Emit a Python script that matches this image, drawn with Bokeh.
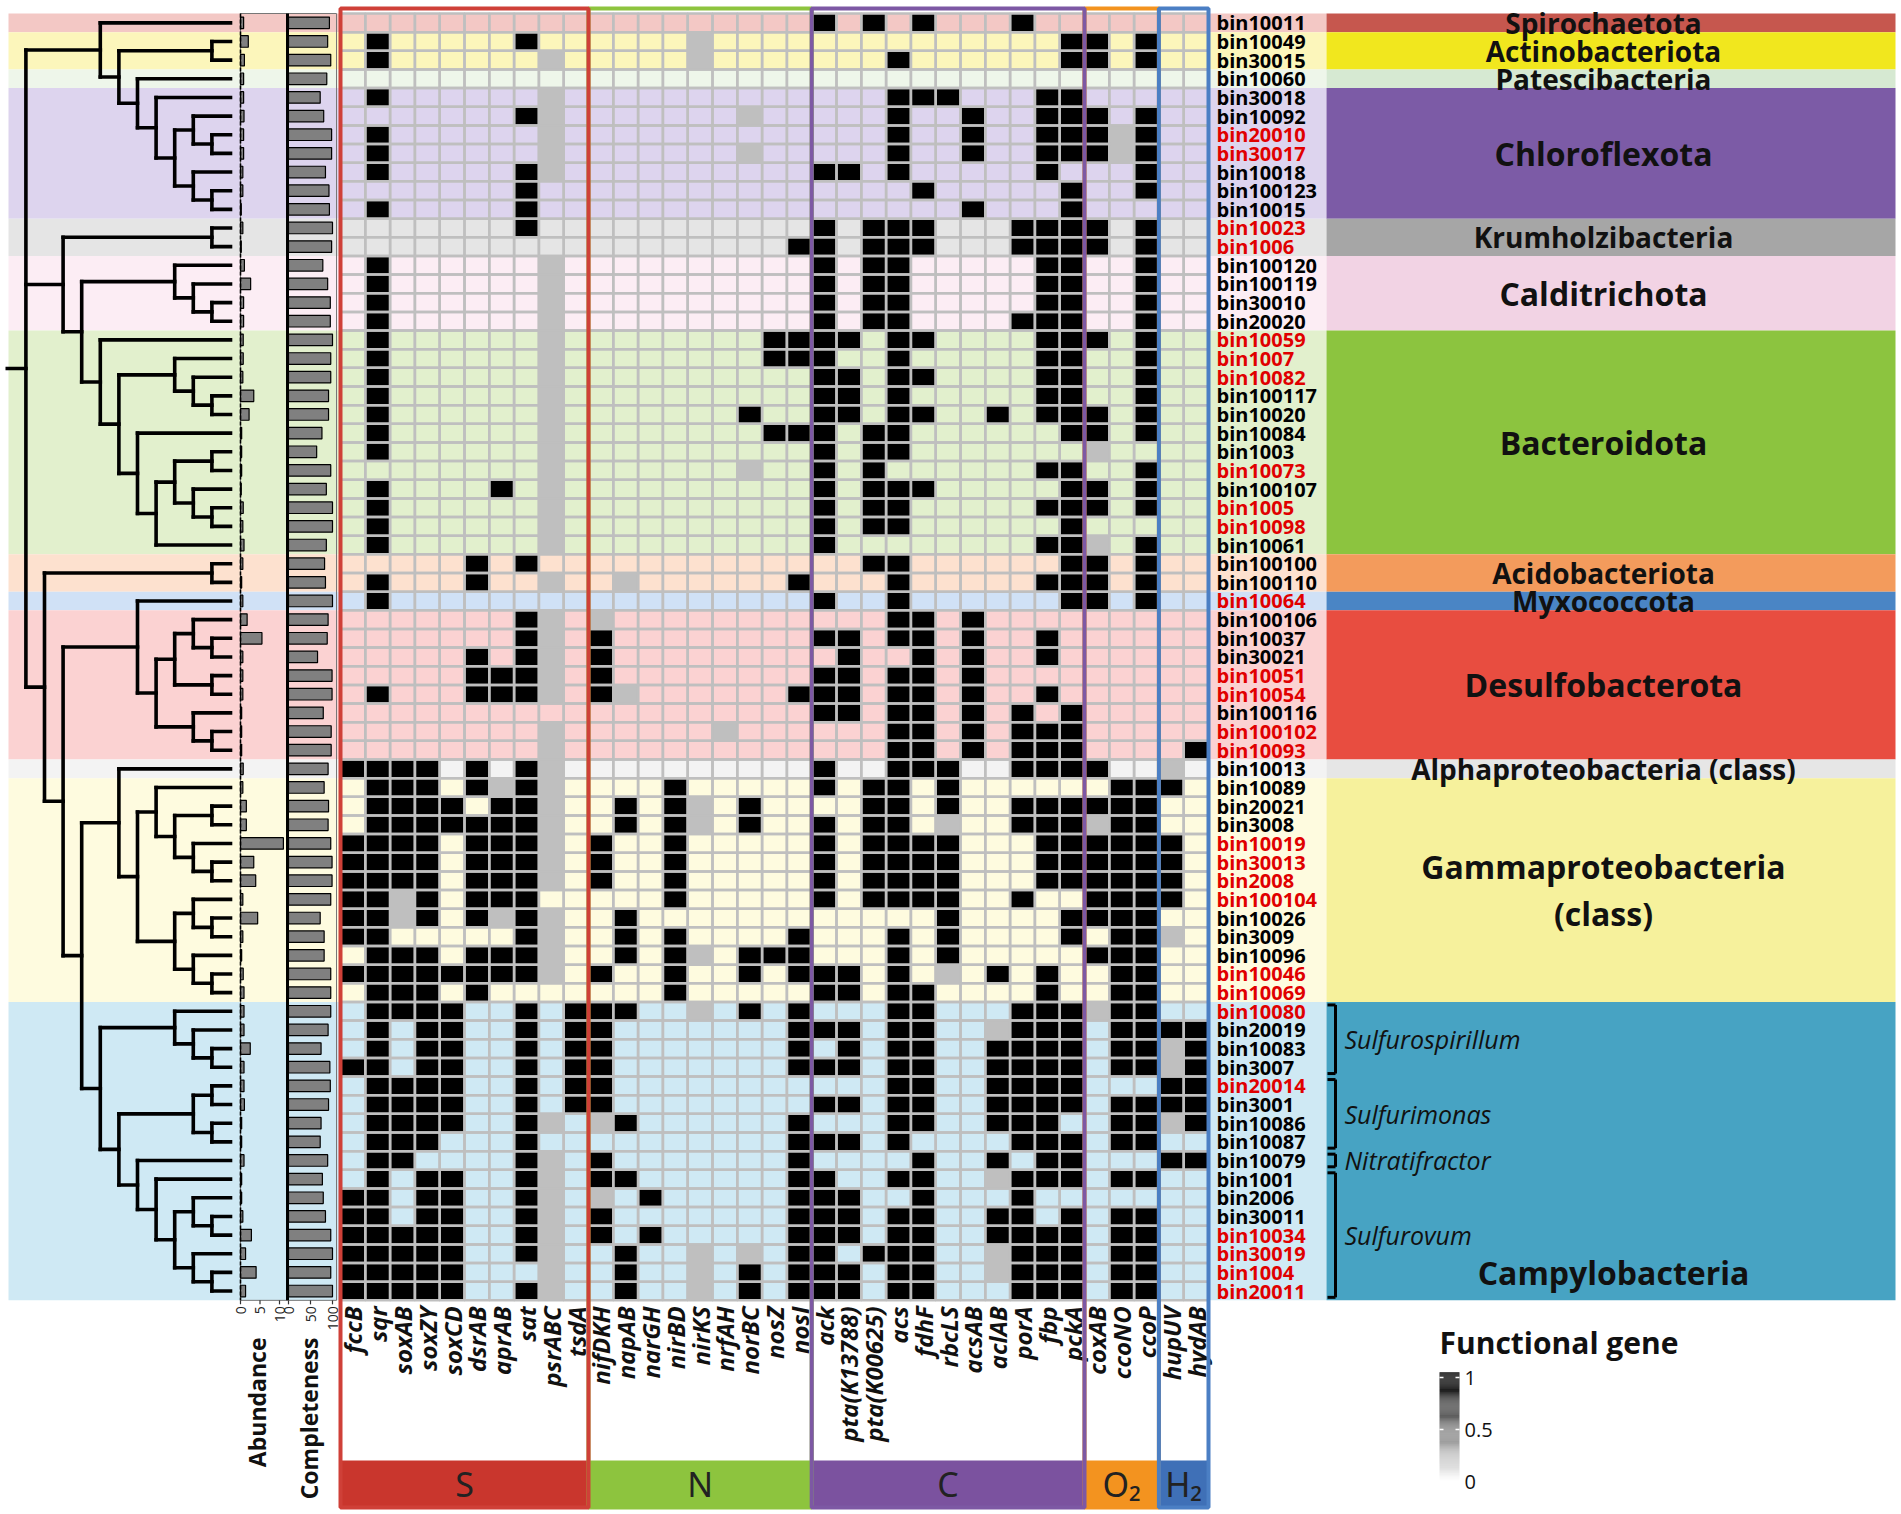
import math
import numpy as np
from bokeh.plotting import figure
from bokeh.models import Range1d, ColumnDataSource, LinearColorMapper
from bokeh.palettes import Greys256
from bokeh.core.properties import value
from bokeh.embed import file_html
from bokeh.resources import INLINE

# ---------------- data ----------------
bins = ["bin10011", "bin10049", "bin30015", "bin10060", "bin30018", "bin10092", "bin20010", "bin30017",
        "bin10018", "bin100123", "bin10015", "bin10023", "bin1006", "bin100120", "bin100119", "bin30010",
        "bin20020", "bin10059", "bin1007", "bin10082", "bin100117", "bin10020", "bin10084", "bin1003",
        "bin10073", "bin100107", "bin1005", "bin10098", "bin10061", "bin100100", "bin100110", "bin10064",
        "bin100106", "bin10037", "bin30021", "bin10051", "bin10054", "bin100116", "bin100102", "bin10093",
        "bin10013", "bin10089", "bin20021", "bin3008", "bin10019", "bin30013", "bin2008", "bin100104",
        "bin10026", "bin3009", "bin10096", "bin10046", "bin10069", "bin10080", "bin20019", "bin10083",
        "bin3007", "bin20014", "bin3001", "bin10086", "bin10087", "bin10079", "bin1001", "bin2006",
        "bin30011", "bin10034", "bin30019", "bin1004", "bin20011"]

red_bins = ["bin20010", "bin30017", "bin10023", "bin1006", "bin10059", "bin1007", "bin10082", "bin10073",
            "bin1005", "bin10098", "bin10064", "bin10051", "bin10054", "bin100102", "bin10093", "bin10019",
            "bin30013", "bin2008", "bin100104", "bin10046", "bin10069", "bin10080", "bin20014", "bin10034",
            "bin30019", "bin1004", "bin20011"]

genes = ["fccB", "sqr", "soxAB", "soxZY", "soxCD", "dsrAB", "aprAB", "sat", "psrABC", "tsdA",
         "nifDKH", "napAB", "narGH", "nirBD", "nirKS", "nrfAH", "norBC", "nosZ", "nosI",
         "ack", "pta(K13788)", "pta(K00625)", "acs", "fdhF", "rbcLS", "acsAB", "aclAB", "porA", "fbp", "pckA",
         "coxAB", "ccoNO", "ccoP", "hupUV", "hydAB"]

group_names = ["S", "N", "C", "O\u2082", "H\u2082"]
group_sizes = [10, 9, 11, 3, 2]
group_fill = ["#c9362d", "#8dc43e", "#7b529f", "#f3931f", "#3f70b7"]
group_line = ["#cf4038", "#8dc43e", "#7d58a4", "#f3931f", "#4b7fc4"]

# gene presence: 1 = present, g = partial (0.25 on the colour scale), 0 = absent
level_of = {"0": 0.0, "g": 0.25, "1": 1.0}
cells = [
    "0000000000 000000000 10101000100 000 00",
    "0100000100 0000g0000 00000000001 101 00",
    "01000000g0 0000g0000 00010000001 101 00",
    "0000000000 000000000 00000000000 000 00",
    "01000000g0 000000000 00011100011 000 00",
    "00000001g0 000000g00 00010010011 101 00",
    "01000000g0 000000000 00010010011 1g1 00",
    "01000000g0 000000g00 00010010011 1g1 00",
    "01000001g0 000000000 11010000010 001 00",
    "0000000100 000000000 00001000001 001 00",
    "0100000100 000000000 00000010001 000 00",
    "0000000100 000000000 10111000111 101 00",
    "0000000000 000000001 10111000111 101 00",
    "01000000g0 000000000 10110000011 001 00",
    "01000000g0 000000000 10110000011 001 00",
    "01000000g0 000000000 10110000011 001 00",
    "01000000g0 000000000 10110000111 001 00",
    "01000000g0 000000011 11011000011 101 00",
    "01000000g0 000000011 10010000011 001 00",
    "01000000g0 000000000 11011000011 001 00",
    "01000000g0 000000000 11010000011 001 00",
    "01000000g0 000000100 11011001011 101 00",
    "01000000g0 000000011 10110000001 101 00",
    "01000000g0 000000000 10110000000 g00 00",
    "00000000g0 000000g00 10100000011 001 00",
    "01000010g0 000000000 10111000001 101 00",
    "01000000g0 000000000 10110000011 101 00",
    "01000000g0 000000000 10110000001 000 00",
    "01000000g0 000000000 10000000011 g01 00",
    "0000010100 000000000 00110000001 101 00",
    "01000100g0 0g0000001 00010000011 101 00",
    "0100000000 000000000 10010000001 101 00",
    "00000001g0 g00000000 00011010000 000 00",
    "00000001g0 100000000 11011010010 000 00",
    "00000101g0 100000000 01001010010 000 00",
    "00000111g0 100000000 11011010000 000 00",
    "01000111g0 1g0000001 11011010010 000 00",
    "0000000000 000000000 11011010101 000 00",
    "00000000g0 00000g000 00011010111 000 00",
    "00000000g0 000000000 00011010111 000 01",
    "11110101g0 000000000 10011100111 100 g0",
    "011101g1g0 000100000 10110100000 011 10",
    "01111011g0 0101g0100 00110100111 111 00",
    "01111111g0 0101g0100 10110g00111 g11 00",
    "11110111g0 100100000 10111100011 111 10",
    "11110111g0 100100000 10111100011 111 10",
    "11110111g0 100100000 10111100011 111 10",
    "11g1011100 000100000 10111100100 111 10",
    "11g101g1g0 010000000 00000100001 111 00",
    "11000001g0 010100001 00010100001 011 g0",
    "01110111g0 0101g0111 00010100000 111 00",
    "11111111g0 100100101 11010g01010 011 00",
    "0111010000 000100000 11011000010 011 00",
    "0111100101 1100g0101 00011000111 g11 00",
    "0101100101 100000001 1101100g111 011 11",
    "0101100101 100000001 01011001111 011 g1",
    "1101100101 100000001 11011001111 011 g1",
    "0111100101 100000000 00011001111 000 11",
    "0111100101 100000000 11011001111 011 11",
    "01111001g0 g10000001 00011001110 011 g1",
    "0111000100 000000001 11010000111 011 00",
    "01100001g0 100000001 00001001011 000 11",
    "01011001g0 110000001 1001100g111 011 00",
    "11011001g0 g01000001 11001000100 000 00",
    "11011001g0 100000001 11011001101 011 00",
    "11111001g0 101000001 11011001111 011 00",
    "11111001g0 0100g0g01 1011100g111 011 00",
    "11111000g0 0100g0101 1101100g111 011 00",
    "11111001g0 0100g0101 11011000111 011 00",
]

abundance = [0.8, 2.0, 1.0, 0.8, 0.8, 0.9, 0.8, 0.8, 0.6, 0.6,
             0.2, 0.6, 0.2, 1.0, 2.6, 0.8, 0.8, 0.7, 0.7, 0.6,
             3.4, 2.2, 0.3, 0.3, 0.3, 0.2, 0.7, 0.6, 0.9, 0.6,
             0.3, 0.6, 1.7, 5.5, 0.6, 0.6, 0.6, 0.3, 0.3, 0.3,
             0.7, 0.6, 1.5, 1.5, 11.0, 3.4, 3.9, 0.6, 4.4, 0.6,
             0.3, 0.7, 0.9, 0.9, 0.9, 2.5, 0.9, 0.9, 1.0, 0.3,
             0.3, 0.9, 0.3, 0.3, 0.6, 2.8, 1.3, 4.0, 1.3]
abundance_ticks = [0, 5, 10]

completeness = [93, 89, 96, 87, 72, 80, 98, 98, 84, 92, 93,
                100, 98, 78, 89, 95, 95,
                100, 96, 96, 91, 91, 76, 64, 96, 86, 100, 100, 86,
                82, 84, 100,
                90, 88, 66, 99, 99, 79, 97, 97,
                90, 81, 91, 90, 96, 99, 99, 96, 72, 81, 81, 96, 96,
                96, 90, 74, 94, 95, 91, 74, 72, 89, 77, 79, 84, 96, 100, 96, 100]
completeness_ticks = [0, 50, 100]

phyla = ["Spirochaetota", "Actinobacteriota", "Patescibacteria", "Chloroflexota", "Krumholzibacteria",
         "Calditrichota", "Bacteroidota", "Acidobacteriota", "Myxococcota", "Desulfobacterota",
         "Alphaproteobacteria (class)", "Gammaproteobacteria\n(class)", "Campylobacteria"]
phylum_first = ["bin10011", "bin10049", "bin10060", "bin30018", "bin10023", "bin100120", "bin10059",
                "bin100100", "bin10064", "bin100106", "bin10013", "bin10089", "bin10080"]
phylum_last = ["bin10011", "bin30015", "bin10060", "bin10015", "bin1006", "bin20020", "bin10061",
               "bin100110", "bin10064", "bin10093", "bin10013", "bin10069", "bin20011"]
phylum_dark = ["#c6574e", "#f1e71e", "#d6e9d2", "#7c5ba6", "#a6a6a6", "#f2d3e4", "#8cc43f",
               "#f39b5c", "#4a85c5", "#e84d40", "#e6e6e6", "#f6f19c", "#47a3c3"]
phylum_light = ["#f3c8c5", "#fcf6bb", "#eef6ea", "#ddd4ee", "#e5e5e5", "#fcedf4", "#e2f0cd",
                "#fde1cf", "#d0e1f6", "#fbd2d2", "#f3f3f3", "#fefbdf", "#cfe9f4"]
big_phyla = ["Chloroflexota", "Calditrichota", "Bacteroidota", "Desulfobacterota",
             "Gammaproteobacteria\n(class)", "Campylobacteria"]

genera = ["Sulfurospirillum", "Sulfurimonas", "Nitratifractor", "Sulfurovum"]
genus_first = ["bin10080", "bin20014", "bin10079", "bin1001"]
genus_last = ["bin3007", "bin10087", "bin10079", "bin20011"]

clade_chloro = "(bin10011,((bin10049,bin30015),(bin10060,(bin30018,((bin10092,(bin20010,bin30017)),(bin10018,(bin100123,bin10015)))))))"
clade_bacteroid = "(bin10059,((bin1007,(bin10082,(bin100117,bin10020))),(bin10084,(((bin1003,bin10073),(bin100107,(bin1005,bin10098))),bin10061))))"
clade_krum = "((bin10023,bin1006),((bin100120,(bin100119,(bin30010,bin20020)))," + clade_bacteroid + "))"
clade_desulfo = "(bin10064,(((bin100106,(bin10037,bin30021)),(bin10051,bin10054)),(bin100116,(bin100102,bin10093))))"
clade_proteo = ("(bin10013,((bin10089,((bin20021,bin3008),(bin10019,(bin30013,bin2008)))),"
                "((bin100104,(bin10026,bin3009)),(bin10096,(bin10046,bin10069)))))")
clade_campy = ("((bin10080,(bin20019,(bin10083,bin3007))),(((bin20014,bin3001),(bin10086,bin10087)),"
               "(bin10079,(bin1001,((bin2006,(bin30011,bin10034)),(bin30019,(bin1004,bin20011)))))))")
clade_rest = "((bin100100,bin100110),(" + clade_desulfo + ",(" + clade_proteo + "," + clade_campy + ")))"
tree_newick = "(" + clade_chloro + "," + clade_krum + "," + clade_rest + ");"

# ---------------- layout ----------------
W, H = 1898, 1512
ROW0, RH = 13.0, 18.65
HM_X0, CW = 340.0, 24.8
TIP_X, STEP = 230.0, 18.6
AB_X0, AB_K = 240.0, 3.9
CP_X0, CP_K = 288.0, 0.44
LAB_X = 1216.0
BAND_X0, BAND_X1, BAND_X2 = 8.0, 1326.0, 1895.0
BOX_TOP, BOX_BOT, BAR_TOP = 8.0, 1507.0, 1460.0
FONT = value("Open Sans")

n_rows = len(bins)
HM_BOT = ROW0 + n_rows * RH
idx = {b: i for i, b in enumerate(bins)}
row_c = [ROW0 + (i + 0.5) * RH for i in range(n_rows)]

p = figure(width=W, height=H, x_range=Range1d(0, W), y_range=Range1d(H, 0),
           output_backend="svg", toolbar_location=None, min_border=0)
p.axis.visible = False
p.grid.visible = False
p.outline_line_color = None
p.background_fill_color = "white"

# background bands (light, left) and phylum bands (dark, right)
tops = [ROW0 + idx[f] * RH for f in phylum_first]
bots = [ROW0 + (idx[l] + 1) * RH for l in phylum_last]
p.quad(left=BAND_X0, right=BAND_X1, top=tops, bottom=bots, fill_color=phylum_light, line_color=None)
p.quad(left=BAND_X1, right=BAND_X2, top=tops, bottom=bots, fill_color=phylum_dark, line_color=None)

# ---------------- tree ----------------
def parse_newick(s):
    s = s.strip().rstrip(";")
    pos = [0]

    def node():
        if s[pos[0]] == "(":
            pos[0] += 1
            kids = [node()]
            while s[pos[0]] == ",":
                pos[0] += 1
                kids.append(node())
            pos[0] += 1  # ')'
            return {"children": kids}
        start = pos[0]
        while s[pos[0]] not in ",()":
            pos[0] += 1
        return {"name": s[start:pos[0]]}
    return node()

def place(n):
    if "name" in n:
        n["h"] = 0
        n["y"] = row_c[idx[n["name"]]]
    else:
        for c in n["children"]:
            place(c)
        n["h"] = 1 + max(c["h"] for c in n["children"])
        ys = [c["y"] for c in n["children"]]
        n["y"] = (min(ys) + max(ys)) / 2.0
    n["x"] = TIP_X - n["h"] * STEP

tree = parse_newick(tree_newick)
place(tree)
sx0, sy0, sx1, sy1 = [], [], [], []

def collect(n):
    if "children" in n:
        ys = [c["y"] for c in n["children"]]
        sx0.append(n["x"]); sy0.append(min(ys)); sx1.append(n["x"]); sy1.append(max(ys))
        for c in n["children"]:
            sx0.append(n["x"]); sy0.append(c["y"]); sx1.append(c["x"]); sy1.append(c["y"])
            collect(c)

collect(tree)
sx0.append(tree["x"] - STEP); sy0.append(tree["y"]); sx1.append(tree["x"]); sy1.append(tree["y"])
p.segment(x0=sx0, y0=sy0, x1=sx1, y1=sy1, line_color="black", line_width=3.6, line_cap="square")

# ---------------- abundance & completeness ----------------
p.quad(left=AB_X0, right=CP_X0 - 1, top=ROW0, bottom=HM_BOT, fill_color=None, line_color="#777777", line_width=1)
p.quad(left=CP_X0 - 1, right=HM_X0 - 4, top=ROW0, bottom=HM_BOT, fill_color=None, line_color="#777777", line_width=1)
p.hbar(y=row_c, left=AB_X0, right=[AB_X0 + a * AB_K for a in abundance], height=RH * 0.62,
       fill_color="#808080", line_color="black", line_width=1.2)
p.hbar(y=row_c, left=CP_X0, right=[CP_X0 + c * CP_K for c in completeness], height=RH * 0.62,
       fill_color="#808080", line_color="black", line_width=1.2)
p.segment(x0=[AB_X0], y0=[ROW0], x1=[AB_X0], y1=[HM_BOT], line_color="black", line_width=1.6, line_dash="4 2")
p.segment(x0=[CP_X0 - 1], y0=[ROW0], x1=[CP_X0 - 1], y1=[HM_BOT], line_color="black", line_width=3)

ab_tx = [AB_X0 + t * AB_K for t in abundance_ticks]
cp_tx = [CP_X0 + t * CP_K for t in completeness_ticks]
p.segment(x0=ab_tx + cp_tx, y0=HM_BOT, x1=ab_tx + cp_tx, y1=HM_BOT + 4, line_color="#333333", line_width=1.2)
p.text(x=ab_tx + cp_tx, y=HM_BOT + 6, text=[str(t) for t in abundance_ticks + completeness_ticks],
       angle=math.pi / 2, text_align="right", text_baseline="middle", text_font=FONT,
       text_font_size="14px", text_color="#222222")
p.text(x=[AB_X0 + 16, CP_X0 + 20], y=[1337, 1337], text=["Abundance", "Completeness"],
       angle=math.pi / 2, text_align="right", text_baseline="middle", text_font=FONT,
       text_font_size="23px", text_font_style="bold", text_color="#111111")

# ---------------- heatmap ----------------
mapper = LinearColorMapper(palette=list(reversed(Greys256)), low=0, high=1)
gx, gy, fx, fy, fv = [], [], [], [], []
for i, row in enumerate(cells):
    for j, ch in enumerate(row.replace(" ", "")):
        cx = HM_X0 + (j + 0.5) * CW
        gx.append(cx); gy.append(row_c[i])
        if level_of[ch] > 0:
            fx.append(cx); fy.append(row_c[i]); fv.append(level_of[ch])
p.rect(x="x", y="y", width=CW, height=RH, source=ColumnDataSource(dict(x=fx, y=fy, v=fv)),
       fill_color={"field": "v", "transform": mapper}, line_color=None)
p.rect(x=gx, y=gy, width=CW, height=RH, fill_color=None, line_color="#bfbfbf", line_width=2.5)

gene_x = [HM_X0 + (j + 0.5) * CW for j in range(len(genes))]
p.text(x=gene_x, y=HM_BOT + 6, text=genes, angle=math.pi / 2, text_align="right", text_baseline="middle",
       text_font=FONT, text_font_size="24px", text_font_style="bold italic", text_color="#111111")

# group boxes and bars
edges = [HM_X0 + CW * k for k in np.cumsum([0] + group_sizes)]
gl, gr = edges[:-1], edges[1:]
p.quad(left=gl, right=gr, top=BAR_TOP, bottom=BOX_BOT, fill_color=group_fill, line_color=None)
p.text(x=[(a + b) / 2 for a, b in zip(gl, gr)], y=(BAR_TOP + BOX_BOT) / 2, text=group_names,
       text_align="center", text_baseline="middle", text_font=value("Noto Sans"),
       text_font_size="34px", text_color="#222222")
under = [k for k in range(len(group_names)) if k in (1, 3)]
over = [k for k in range(len(group_names)) if k not in (1, 3)]
for ks in (under, over):
    p.quad(left=[gl[k] for k in ks], right=[gr[k] for k in ks], top=BOX_TOP, bottom=BOX_BOT,
           fill_color=None, line_color=[group_line[k] for k in ks], line_width=4)

# bin labels
p.text(x=LAB_X, y=row_c, text=bins, text_color=["#e00000" if b in red_bins else "black" for b in bins],
       text_align="left", text_baseline="middle", text_font=FONT, text_font_size="20px",
       text_font_style="bold")

# phylum labels
band_cx = 1603.0
lab_y = []
for f, l, name in zip(phylum_first, phylum_last, phyla):
    if name == "Campylobacteria":
        lab_y.append(row_c[idx[l] - 1])
    else:
        lab_y.append((ROW0 + idx[f] * RH + ROW0 + (idx[l] + 1) * RH) / 2)
small = [k for k, n in enumerate(phyla) if n not in big_phyla]
big = [k for k, n in enumerate(phyla) if n in big_phyla]
p.text(x=band_cx, y=[lab_y[k] for k in small], text=[phyla[k] for k in small], text_align="center",
       text_baseline="middle", text_font=FONT, text_font_size="28px", text_font_style="bold",
       text_color="#111111")
p.text(x=[band_cx + (10 if phyla[k] == "Campylobacteria" else 0) for k in big], y=[lab_y[k] for k in big],
       text=[phyla[k] for k in big], text_align="center", text_baseline="middle", text_font=FONT,
       text_font_size="32px", text_font_style="bold", text_color="#111111", text_line_height=1.1)

# genus brackets
BX, BT = 1335.0, 1327.0
b_top = [ROW0 + idx[f] * RH + 3 for f in genus_first]
b_bot = [ROW0 + (idx[l] + 1) * RH - 3 for l in genus_last]
p.segment(x0=[BX] * 4 + [BT] * 8, y0=b_top + b_top + b_bot, x1=[BX] * 4 + [BX] * 8,
          y1=b_bot + b_top + b_bot, line_color="black", line_width=3)
p.text(x=BX + 9, y=[(a + b) / 2 for a, b in zip(b_top, b_bot)], text=genera, text_align="left",
       text_baseline="middle", text_font=FONT, text_font_size="25px", text_font_style="italic",
       text_color="#111111")

# legend
LG_X, LG_W, LG_Y0, LG_H = 1439.0, 20.0, 1481.0, 104.0
p.text(x=[LG_X], y=[1342], text=["Functional gene"], text_align="left", text_baseline="middle",
       text_font=FONT, text_font_size="30px", text_font_style="bold", text_color="#111111")
lv = np.linspace(0, 1.05, 106)
leg_src = ColumnDataSource(dict(b=[LG_Y0 - v * LG_H for v in lv[:-1]],
                                t=[LG_Y0 - v * LG_H for v in lv[1:]],
                                v=list(np.minimum(lv[:-1], 1.0))))
p.quad(left=LG_X, right=LG_X + LG_W, bottom="b", top="t", source=leg_src,
       fill_color={"field": "v", "transform": mapper}, line_color=None)
leg_vals = [1, 0.5, 0]
leg_y = [LG_Y0 - v * LG_H for v in leg_vals]
p.segment(x0=[LG_X] * 2 + [LG_X + LG_W - 4] * 2, y0=leg_y[:2] * 2, x1=[LG_X + 4] * 2 + [LG_X + LG_W] * 2,
          y1=leg_y[:2] * 2, line_color="white", line_width=1.5)
p.text(x=LG_X + LG_W + 5, y=leg_y, text=["1", "0.5", "0"], text_align="left", text_baseline="middle",
       text_font=FONT, text_font_size="20px", text_color="#111111")

open("out.html", "w").write(file_html(p, INLINE))
